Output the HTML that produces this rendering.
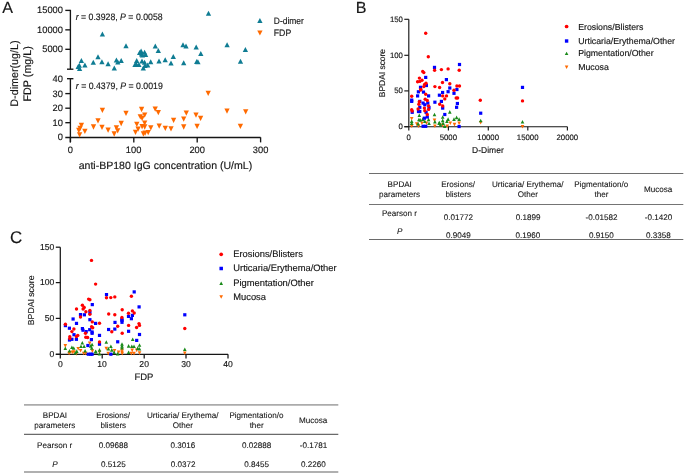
<!DOCTYPE html>
<html><head><meta charset="utf-8"><style>
html,body{margin:0;padding:0;background:#fff;}
body{width:685px;height:474px;overflow:hidden;}
svg{display:block;font-family:"Liberation Sans", sans-serif;will-change:transform;filter:blur(0.35px);}
text{stroke:#161616;stroke-width:0.15px;text-rendering:geometricPrecision;}
text.t{stroke-width:0.1px;}
</style></head><body>
<svg width="685" height="474" viewBox="0 0 685 474">
<rect width="685" height="474" fill="#fff"/>
<text x="2.20" y="12.95" font-size="16.10" text-anchor="start" fill="#161616" >A</text>
<line x1="70.4" y1="9.85" x2="70.4" y2="69.2" stroke="#161616" stroke-width="1.35"/>
<line x1="65.3" y1="10.4" x2="70.4" y2="10.4" stroke="#161616" stroke-width="1.35"/>
<line x1="65.3" y1="29.85" x2="70.4" y2="29.85" stroke="#161616" stroke-width="1.35"/>
<line x1="65.3" y1="49.3" x2="70.4" y2="49.3" stroke="#161616" stroke-width="1.35"/>
<line x1="67.0" y1="69.2" x2="73.4" y2="69.2" stroke="#161616" stroke-width="1.35"/>
<text x="37.07" y="13.40" font-size="9.30" text-anchor="start" fill="#161616" >15000</text>
<text x="37.07" y="32.85" font-size="9.30" text-anchor="start" fill="#161616" >10000</text>
<text x="42.23" y="52.30" font-size="9.30" text-anchor="start" fill="#161616" >5000</text>
<line x1="70.4" y1="78.7" x2="70.4" y2="142.4" stroke="#161616" stroke-width="1.35"/>
<line x1="67.0" y1="78.7" x2="73.4" y2="78.7" stroke="#161616" stroke-width="1.35"/>
<line x1="65.3" y1="93.6" x2="70.4" y2="93.6" stroke="#161616" stroke-width="1.35"/>
<line x1="65.3" y1="108.2" x2="70.4" y2="108.2" stroke="#161616" stroke-width="1.35"/>
<line x1="65.3" y1="122.7" x2="70.4" y2="122.7" stroke="#161616" stroke-width="1.35"/>
<line x1="65.3" y1="137.45" x2="260.6" y2="137.45" stroke="#161616" stroke-width="1.35"/>
<line x1="70.4" y1="137.3" x2="70.4" y2="142.4" stroke="#161616" stroke-width="1.35"/>
<line x1="133.8" y1="137.3" x2="133.8" y2="142.4" stroke="#161616" stroke-width="1.35"/>
<line x1="197.2" y1="137.3" x2="197.2" y2="142.4" stroke="#161616" stroke-width="1.35"/>
<line x1="260.6" y1="137.3" x2="260.6" y2="142.4" stroke="#161616" stroke-width="1.35"/>
<text x="52.60" y="81.70" font-size="9.30" text-anchor="start" fill="#161616" >40</text>
<text x="52.60" y="96.60" font-size="9.30" text-anchor="start" fill="#161616" >30</text>
<text x="52.60" y="111.20" font-size="9.30" text-anchor="start" fill="#161616" >20</text>
<text x="52.60" y="125.70" font-size="9.30" text-anchor="start" fill="#161616" >10</text>
<text x="57.76" y="140.30" font-size="9.30" text-anchor="start" fill="#161616" >0</text>
<text x="67.70" y="153.00" font-size="9.30" text-anchor="start" fill="#161616" >0</text>
<text x="125.87" y="153.00" font-size="9.30" text-anchor="start" fill="#161616" >100</text>
<text x="189.39" y="153.00" font-size="9.30" text-anchor="start" fill="#161616" >200</text>
<text x="252.83" y="153.00" font-size="9.30" text-anchor="start" fill="#161616" >300</text>
<text x="78.68" y="168.70" font-size="10.56" text-anchor="start" fill="#161616" >anti-BP180 IgG concentration (U/mL)</text>
<text transform="translate(17.90,106.66) rotate(-90)" x="0" y="0" font-size="10.90" fill="#161616" textLength="66.24" lengthAdjust="spacingAndGlyphs">D-dimer(ug/L)</text>
<text transform="translate(30.60,101.46) rotate(-90)" x="0" y="0" font-size="10.94" fill="#161616" textLength="55.35" lengthAdjust="spacingAndGlyphs">FDP (mg/L)</text>
<text x="75.7" y="20.2" font-size="9.4" fill="#161616" textLength="86.9" lengthAdjust="spacingAndGlyphs"><tspan font-style="italic">r</tspan> = 0.3928, <tspan font-style="italic">P</tspan> = 0.0058</text>
<text x="75.8" y="88.5" font-size="9.4" fill="#161616" textLength="87.0" lengthAdjust="spacingAndGlyphs"><tspan font-style="italic">r</tspan> = 0.4379, <tspan font-style="italic">P</tspan> = 0.0019</text>
<path d="M259.90 18.10L262.55 23.10L257.25 23.10Z" fill="#0f7c93"/>
<path d="M257.25 30.40L262.55 30.40L259.90 35.40Z" fill="#ff6a00"/>
<text x="273.82" y="23.60" font-size="9.28" text-anchor="start" fill="#161616" textLength="30.01" lengthAdjust="spacingAndGlyphs" >D-dimer</text>
<text x="273.80" y="36.40" font-size="9.59" text-anchor="start" fill="#161616" textLength="17.43" lengthAdjust="spacingAndGlyphs" >FDP</text>
<path d="M102.40 31.40L105.05 36.40L99.75 36.40Z" fill="#0f7c93"/>
<path d="M126.00 43.20L128.65 48.20L123.35 48.20Z" fill="#0f7c93"/>
<path d="M98.00 54.20L100.65 59.20L95.35 59.20Z" fill="#0f7c93"/>
<path d="M81.40 58.00L84.05 63.00L78.75 63.00Z" fill="#0f7c93"/>
<path d="M93.30 59.80L95.95 64.80L90.65 64.80Z" fill="#0f7c93"/>
<path d="M101.90 59.30L104.55 64.30L99.25 64.30Z" fill="#0f7c93"/>
<path d="M108.10 61.20L110.75 66.20L105.45 66.20Z" fill="#0f7c93"/>
<path d="M116.40 57.40L119.05 62.40L113.75 62.40Z" fill="#0f7c93"/>
<path d="M117.80 59.50L120.45 64.50L115.15 64.50Z" fill="#0f7c93"/>
<path d="M121.20 58.10L123.85 63.10L118.55 63.10Z" fill="#0f7c93"/>
<path d="M84.90 62.60L87.55 67.60L82.25 67.60Z" fill="#0f7c93"/>
<path d="M79.30 62.70L81.95 67.70L76.65 67.70Z" fill="#0f7c93"/>
<path d="M79.60 65.90L82.25 70.90L76.95 70.90Z" fill="#0f7c93"/>
<path d="M114.30 65.40L116.95 70.40L111.65 70.40Z" fill="#0f7c93"/>
<path d="M155.30 43.50L157.95 48.50L152.65 48.50Z" fill="#0f7c93"/>
<path d="M158.30 48.00L160.95 53.00L155.65 53.00Z" fill="#0f7c93"/>
<path d="M141.10 48.40L143.75 53.40L138.45 53.40Z" fill="#0f7c93"/>
<path d="M144.60 49.80L147.25 54.80L141.95 54.80Z" fill="#0f7c93"/>
<path d="M141.50 51.50L144.15 56.50L138.85 56.50Z" fill="#0f7c93"/>
<path d="M142.40 52.40L145.05 57.40L139.75 57.40Z" fill="#0f7c93"/>
<path d="M136.70 58.10L139.35 63.10L134.05 63.10Z" fill="#0f7c93"/>
<path d="M136.30 61.60L138.95 66.60L133.65 66.60Z" fill="#0f7c93"/>
<path d="M142.00 58.50L144.65 63.50L139.35 63.50Z" fill="#0f7c93"/>
<path d="M144.60 59.80L147.25 64.80L141.95 64.80Z" fill="#0f7c93"/>
<path d="M150.70 59.30L153.35 64.30L148.05 64.30Z" fill="#0f7c93"/>
<path d="M143.30 65.50L145.95 70.50L140.65 70.50Z" fill="#0f7c93"/>
<path d="M147.70 62.50L150.35 67.50L145.05 67.50Z" fill="#0f7c93"/>
<path d="M145.00 62.90L147.65 67.90L142.35 67.90Z" fill="#0f7c93"/>
<path d="M159.00 58.50L161.65 63.50L156.35 63.50Z" fill="#0f7c93"/>
<path d="M165.20 57.20L167.85 62.20L162.55 62.20Z" fill="#0f7c93"/>
<path d="M208.50 10.80L211.15 15.80L205.85 15.80Z" fill="#0f7c93"/>
<path d="M183.00 42.30L185.65 47.30L180.35 47.30Z" fill="#0f7c93"/>
<path d="M186.00 43.40L188.65 48.40L183.35 48.40Z" fill="#0f7c93"/>
<path d="M196.20 44.60L198.85 49.60L193.55 49.60Z" fill="#0f7c93"/>
<path d="M200.80 51.10L203.45 56.10L198.15 56.10Z" fill="#0f7c93"/>
<path d="M173.30 54.00L175.95 59.00L170.65 59.00Z" fill="#0f7c93"/>
<path d="M171.00 60.50L173.65 65.50L168.35 65.50Z" fill="#0f7c93"/>
<path d="M183.70 60.30L186.35 65.30L181.05 65.30Z" fill="#0f7c93"/>
<path d="M196.70 58.90L199.35 63.90L194.05 63.90Z" fill="#0f7c93"/>
<path d="M197.90 59.20L200.55 64.20L195.25 64.20Z" fill="#0f7c93"/>
<path d="M227.10 42.20L229.75 47.20L224.45 47.20Z" fill="#0f7c93"/>
<path d="M245.40 47.00L248.05 52.00L242.75 52.00Z" fill="#0f7c93"/>
<path d="M240.50 58.80L243.15 63.80L237.85 63.80Z" fill="#0f7c93"/>
<path d="M139.60 49.90L142.25 54.90L136.95 54.90Z" fill="#0f7c93"/>
<path d="M145.60 51.90L148.25 56.90L142.95 56.90Z" fill="#0f7c93"/>
<path d="M135.00 62.00L137.65 67.00L132.35 67.00Z" fill="#0f7c93"/>
<path d="M138.90 62.00L141.55 67.00L136.25 67.00Z" fill="#0f7c93"/>
<path d="M78.20 64.10L80.85 69.10L75.55 69.10Z" fill="#0f7c93"/>
<path d="M99.75 107.75L105.05 107.75L102.40 113.05Z" fill="#ff6a00"/>
<path d="M123.35 110.75L128.65 110.75L126.00 116.05Z" fill="#ff6a00"/>
<path d="M95.35 118.25L100.65 118.25L98.00 123.55Z" fill="#ff6a00"/>
<path d="M78.75 122.65L84.05 122.65L81.40 127.95Z" fill="#ff6a00"/>
<path d="M77.45 125.65L82.75 125.65L80.10 130.95Z" fill="#ff6a00"/>
<path d="M76.15 127.85L81.45 127.85L78.80 133.15Z" fill="#ff6a00"/>
<path d="M76.95 132.25L82.25 132.25L79.60 137.55Z" fill="#ff6a00"/>
<path d="M82.25 128.75L87.55 128.75L84.90 134.05Z" fill="#ff6a00"/>
<path d="M90.85 124.35L96.15 124.35L93.50 129.65Z" fill="#ff6a00"/>
<path d="M99.35 124.75L104.65 124.75L102.00 130.05Z" fill="#ff6a00"/>
<path d="M105.45 127.45L110.75 127.45L108.10 132.75Z" fill="#ff6a00"/>
<path d="M111.55 131.35L116.85 131.35L114.20 136.65Z" fill="#ff6a00"/>
<path d="M113.75 125.25L119.05 125.25L116.40 130.55Z" fill="#ff6a00"/>
<path d="M115.05 128.25L120.35 128.25L117.70 133.55Z" fill="#ff6a00"/>
<path d="M118.55 120.85L123.85 120.85L121.20 126.15Z" fill="#ff6a00"/>
<path d="M138.95 106.85L144.25 106.85L141.60 112.15Z" fill="#ff6a00"/>
<path d="M152.55 106.45L157.85 106.45L155.20 111.75Z" fill="#ff6a00"/>
<path d="M155.65 109.95L160.95 109.95L158.30 115.25Z" fill="#ff6a00"/>
<path d="M142.05 112.55L147.35 112.55L144.70 117.85Z" fill="#ff6a00"/>
<path d="M137.65 114.25L142.95 114.25L140.30 119.55Z" fill="#ff6a00"/>
<path d="M139.45 115.65L144.75 115.65L142.10 120.95Z" fill="#ff6a00"/>
<path d="M170.95 117.75L176.25 117.75L173.60 123.05Z" fill="#ff6a00"/>
<path d="M181.05 116.45L186.35 116.45L183.70 121.75Z" fill="#ff6a00"/>
<path d="M142.05 120.45L147.35 120.45L144.70 125.75Z" fill="#ff6a00"/>
<path d="M134.15 121.75L139.45 121.75L136.80 127.05Z" fill="#ff6a00"/>
<path d="M139.45 123.95L144.75 123.95L142.10 129.25Z" fill="#ff6a00"/>
<path d="M142.05 124.35L147.35 124.35L144.70 129.65Z" fill="#ff6a00"/>
<path d="M135.45 126.55L140.75 126.55L138.10 131.85Z" fill="#ff6a00"/>
<path d="M148.15 125.25L153.45 125.25L150.80 130.55Z" fill="#ff6a00"/>
<path d="M156.55 123.45L161.85 123.45L159.20 128.75Z" fill="#ff6a00"/>
<path d="M162.65 125.65L167.95 125.65L165.30 130.95Z" fill="#ff6a00"/>
<path d="M168.35 126.15L173.65 126.15L171.00 131.45Z" fill="#ff6a00"/>
<path d="M181.05 124.35L186.35 124.35L183.70 129.65Z" fill="#ff6a00"/>
<path d="M132.85 129.65L138.15 129.65L135.50 134.95Z" fill="#ff6a00"/>
<path d="M140.75 131.35L146.05 131.35L143.40 136.65Z" fill="#ff6a00"/>
<path d="M142.45 130.45L147.75 130.45L145.10 135.75Z" fill="#ff6a00"/>
<path d="M145.55 130.05L150.85 130.05L148.20 135.35Z" fill="#ff6a00"/>
<path d="M205.55 90.75L210.85 90.75L208.20 96.05Z" fill="#ff6a00"/>
<path d="M183.65 110.45L188.95 110.45L186.30 115.75Z" fill="#ff6a00"/>
<path d="M193.35 112.45L198.65 112.45L196.00 117.75Z" fill="#ff6a00"/>
<path d="M197.95 115.75L203.25 115.75L200.60 121.05Z" fill="#ff6a00"/>
<path d="M194.45 123.65L199.75 123.65L197.10 128.95Z" fill="#ff6a00"/>
<path d="M224.35 108.55L229.65 108.55L227.00 113.85Z" fill="#ff6a00"/>
<path d="M243.05 109.15L248.35 109.15L245.70 114.45Z" fill="#ff6a00"/>
<path d="M237.75 123.65L243.05 123.65L240.40 128.95Z" fill="#ff6a00"/>
<text x="355.75" y="13.10" font-size="16.10" text-anchor="start" fill="#161616" >B</text>
<line x1="408.8" y1="19.3" x2="408.8" y2="126.7" stroke="#161616" stroke-width="1.15"/>
<line x1="404.3" y1="19.3" x2="408.8" y2="19.3" stroke="#161616" stroke-width="1.15"/>
<text x="389.89" y="21.80" font-size="7.80" text-anchor="start" fill="#161616" >150</text>
<line x1="404.3" y1="55.3" x2="408.8" y2="55.3" stroke="#161616" stroke-width="1.15"/>
<text x="389.89" y="57.80" font-size="7.80" text-anchor="start" fill="#161616" >100</text>
<line x1="404.3" y1="90.9" x2="408.8" y2="90.9" stroke="#161616" stroke-width="1.15"/>
<text x="394.22" y="93.40" font-size="7.80" text-anchor="start" fill="#161616" >50</text>
<line x1="404.3" y1="126.7" x2="408.8" y2="126.7" stroke="#161616" stroke-width="1.15"/>
<text x="398.54" y="129.20" font-size="7.80" text-anchor="start" fill="#161616" >0</text>
<line x1="404.3" y1="126.7" x2="567.4" y2="126.7" stroke="#161616" stroke-width="1.15"/>
<line x1="408.8" y1="126.7" x2="408.8" y2="130.6" stroke="#161616" stroke-width="1.15"/>
<text x="406.62" y="139.70" font-size="7.80" text-anchor="start" fill="#161616" >0</text>
<line x1="448.4" y1="126.7" x2="448.4" y2="130.6" stroke="#161616" stroke-width="1.15"/>
<text x="439.70" y="139.70" font-size="7.80" text-anchor="start" fill="#161616" >5000</text>
<line x1="488.3" y1="126.7" x2="488.3" y2="130.6" stroke="#161616" stroke-width="1.15"/>
<text x="477.30" y="139.70" font-size="7.80" text-anchor="start" fill="#161616" >10000</text>
<line x1="527.8" y1="126.7" x2="527.8" y2="130.6" stroke="#161616" stroke-width="1.15"/>
<text x="516.80" y="139.70" font-size="7.80" text-anchor="start" fill="#161616" >15000</text>
<line x1="567.4" y1="126.7" x2="567.4" y2="130.6" stroke="#161616" stroke-width="1.15"/>
<text x="556.50" y="139.70" font-size="7.80" text-anchor="start" fill="#161616" >20000</text>
<text x="472.12" y="152.80" font-size="8.50" text-anchor="start" fill="#161616" >D-Dimer</text>
<text transform="translate(384.60,97.17) rotate(-90)" x="0" y="0" font-size="8.43" fill="#161616">BPDAI score</text>
<circle cx="566.6" cy="26.5" r="1.85" fill="#ff0000"/>
<rect x="564.90" y="39.30" width="3.4" height="3.4" fill="#0000ff"/>
<path d="M566.60 51.64L568.40 54.96L564.80 54.96Z" fill="#1a8a1a"/>
<path d="M564.80 65.59L568.40 65.59L566.60 69.01Z" fill="#ff6a00"/>
<text x="578.20" y="29.80" font-size="8.75" text-anchor="start" fill="#161616" >Erosions/Blisters</text>
<text x="578.24" y="44.10" font-size="8.75" text-anchor="start" fill="#161616" >Urticaria/Erythema/Other</text>
<text x="578.20" y="56.40" font-size="8.75" text-anchor="start" fill="#161616" >Pigmentation/Other</text>
<text x="578.20" y="70.40" font-size="8.75" text-anchor="start" fill="#161616" >Mucosa</text>
<path d="M409.90 116.90L413.50 116.90L411.70 120.50Z" fill="#ff6a00"/>
<path d="M409.90 124.50L413.50 124.50L411.70 128.10Z" fill="#ff6a00"/>
<path d="M415.00 122.30L418.60 122.30L416.80 125.90Z" fill="#ff6a00"/>
<path d="M416.70 124.50L420.30 124.50L418.50 128.10Z" fill="#ff6a00"/>
<path d="M420.10 121.50L423.70 121.50L421.90 125.10Z" fill="#ff6a00"/>
<path d="M424.70 121.50L428.30 121.50L426.50 125.10Z" fill="#ff6a00"/>
<path d="M432.70 118.60L436.30 118.60L434.50 122.20Z" fill="#ff6a00"/>
<path d="M433.10 124.50L436.70 124.50L434.90 128.10Z" fill="#ff6a00"/>
<path d="M440.90 123.60L444.50 123.60L442.70 127.20Z" fill="#ff6a00"/>
<path d="M445.50 124.50L449.10 124.50L447.30 128.10Z" fill="#ff6a00"/>
<path d="M448.50 121.50L452.10 121.50L450.30 125.10Z" fill="#ff6a00"/>
<path d="M452.70 122.80L456.30 122.80L454.50 126.40Z" fill="#ff6a00"/>
<path d="M457.30 121.50L460.90 121.50L459.10 125.10Z" fill="#ff6a00"/>
<path d="M478.90 121.00L482.50 121.00L480.70 124.60Z" fill="#ff6a00"/>
<path d="M520.70 124.90L524.30 124.90L522.50 128.50Z" fill="#ff6a00"/>
<path d="M419.30 113.50L421.10 117.10L417.50 117.10Z" fill="#1a8a1a"/>
<path d="M434.50 112.70L436.30 116.30L432.70 116.30Z" fill="#1a8a1a"/>
<path d="M411.70 119.40L413.50 123.00L409.90 123.00Z" fill="#1a8a1a"/>
<path d="M411.70 121.50L413.50 125.10L409.90 125.10Z" fill="#1a8a1a"/>
<path d="M418.90 117.70L420.70 121.30L417.10 121.30Z" fill="#1a8a1a"/>
<path d="M420.20 118.10L422.00 121.70L418.40 121.70Z" fill="#1a8a1a"/>
<path d="M422.70 117.30L424.50 120.90L420.90 120.90Z" fill="#1a8a1a"/>
<path d="M418.10 121.90L419.90 125.50L416.30 125.50Z" fill="#1a8a1a"/>
<path d="M424.80 119.40L426.60 123.00L423.00 123.00Z" fill="#1a8a1a"/>
<path d="M428.60 117.70L430.40 121.30L426.80 121.30Z" fill="#1a8a1a"/>
<path d="M429.00 121.50L430.80 125.10L427.20 125.10Z" fill="#1a8a1a"/>
<path d="M434.90 119.80L436.70 123.40L433.10 123.40Z" fill="#1a8a1a"/>
<path d="M439.10 121.50L440.90 125.10L437.30 125.10Z" fill="#1a8a1a"/>
<path d="M449.80 110.10L451.60 113.70L448.00 113.70Z" fill="#1a8a1a"/>
<path d="M442.70 115.20L444.50 118.80L440.90 118.80Z" fill="#1a8a1a"/>
<path d="M439.30 120.70L441.10 124.30L437.50 124.30Z" fill="#1a8a1a"/>
<path d="M442.70 118.60L444.50 122.20L440.90 122.20Z" fill="#1a8a1a"/>
<path d="M443.10 121.50L444.90 125.10L441.30 125.10Z" fill="#1a8a1a"/>
<path d="M448.10 117.30L449.90 120.90L446.30 120.90Z" fill="#1a8a1a"/>
<path d="M446.90 119.40L448.70 123.00L445.10 123.00Z" fill="#1a8a1a"/>
<path d="M454.00 117.30L455.80 120.90L452.20 120.90Z" fill="#1a8a1a"/>
<path d="M456.60 115.60L458.40 119.20L454.80 119.20Z" fill="#1a8a1a"/>
<path d="M459.10 117.30L460.90 120.90L457.30 120.90Z" fill="#1a8a1a"/>
<path d="M440.50 122.80L442.30 126.40L438.70 126.40Z" fill="#1a8a1a"/>
<path d="M444.80 124.50L446.60 128.10L443.00 128.10Z" fill="#1a8a1a"/>
<path d="M480.70 118.70L482.50 122.30L478.90 122.30Z" fill="#1a8a1a"/>
<path d="M522.50 119.90L524.30 123.50L520.70 123.50Z" fill="#1a8a1a"/>
<rect x="432.90" y="65.80" width="3.2" height="3.2" fill="#0000ff"/>
<rect x="424.10" y="75.80" width="3.2" height="3.2" fill="#0000ff"/>
<rect x="424.80" y="83.90" width="3.2" height="3.2" fill="#0000ff"/>
<rect x="418.90" y="85.70" width="3.2" height="3.2" fill="#0000ff"/>
<rect x="416.80" y="90.20" width="3.2" height="3.2" fill="#0000ff"/>
<rect x="421.90" y="90.50" width="3.2" height="3.2" fill="#0000ff"/>
<rect x="410.10" y="98.50" width="3.2" height="3.2" fill="#0000ff"/>
<rect x="410.10" y="99.80" width="3.2" height="3.2" fill="#0000ff"/>
<rect x="410.60" y="110.70" width="3.2" height="3.2" fill="#0000ff"/>
<rect x="416.00" y="94.30" width="3.2" height="3.2" fill="#0000ff"/>
<rect x="427.00" y="94.30" width="3.2" height="3.2" fill="#0000ff"/>
<rect x="418.20" y="99.80" width="3.2" height="3.2" fill="#0000ff"/>
<rect x="421.50" y="101.50" width="3.2" height="3.2" fill="#0000ff"/>
<rect x="423.20" y="103.20" width="3.2" height="3.2" fill="#0000ff"/>
<rect x="426.20" y="101.50" width="3.2" height="3.2" fill="#0000ff"/>
<rect x="418.20" y="105.70" width="3.2" height="3.2" fill="#0000ff"/>
<rect x="427.40" y="106.10" width="3.2" height="3.2" fill="#0000ff"/>
<rect x="416.90" y="109.90" width="3.2" height="3.2" fill="#0000ff"/>
<rect x="418.20" y="109.90" width="3.2" height="3.2" fill="#0000ff"/>
<rect x="424.50" y="110.70" width="3.2" height="3.2" fill="#0000ff"/>
<rect x="425.70" y="115.40" width="3.2" height="3.2" fill="#0000ff"/>
<rect x="422.80" y="116.60" width="3.2" height="3.2" fill="#0000ff"/>
<rect x="433.30" y="100.60" width="3.2" height="3.2" fill="#0000ff"/>
<rect x="437.80" y="93.60" width="3.2" height="3.2" fill="#0000ff"/>
<rect x="421.50" y="124.70" width="3.2" height="3.2" fill="#0000ff"/>
<rect x="424.10" y="124.70" width="3.2" height="3.2" fill="#0000ff"/>
<rect x="457.90" y="62.90" width="3.2" height="3.2" fill="#0000ff"/>
<rect x="444.80" y="78.00" width="3.2" height="3.2" fill="#0000ff"/>
<rect x="448.20" y="86.40" width="3.2" height="3.2" fill="#0000ff"/>
<rect x="455.30" y="87.90" width="3.2" height="3.2" fill="#0000ff"/>
<rect x="446.50" y="90.10" width="3.2" height="3.2" fill="#0000ff"/>
<rect x="441.00" y="90.90" width="3.2" height="3.2" fill="#0000ff"/>
<rect x="452.40" y="91.70" width="3.2" height="3.2" fill="#0000ff"/>
<rect x="439.80" y="99.80" width="3.2" height="3.2" fill="#0000ff"/>
<rect x="441.10" y="106.50" width="3.2" height="3.2" fill="#0000ff"/>
<rect x="455.80" y="101.90" width="3.2" height="3.2" fill="#0000ff"/>
<rect x="455.00" y="105.70" width="3.2" height="3.2" fill="#0000ff"/>
<rect x="443.20" y="112.90" width="3.2" height="3.2" fill="#0000ff"/>
<rect x="457.50" y="124.90" width="3.2" height="3.2" fill="#0000ff"/>
<rect x="479.10" y="111.60" width="3.2" height="3.2" fill="#0000ff"/>
<rect x="520.90" y="85.80" width="3.2" height="3.2" fill="#0000ff"/>
<circle cx="425.7" cy="33.2" r="1.7" fill="#ff0000"/>
<circle cx="428.3" cy="56.8" r="1.7" fill="#ff0000"/>
<circle cx="422.7" cy="71.4" r="1.7" fill="#ff0000"/>
<circle cx="423.8" cy="72.6" r="1.7" fill="#ff0000"/>
<circle cx="419.4" cy="78.1" r="1.7" fill="#ff0000"/>
<circle cx="417.6" cy="81.8" r="1.7" fill="#ff0000"/>
<circle cx="419.8" cy="81.4" r="1.7" fill="#ff0000"/>
<circle cx="422.0" cy="80.3" r="1.7" fill="#ff0000"/>
<circle cx="424.6" cy="84.4" r="1.7" fill="#ff0000"/>
<circle cx="426.0" cy="83.3" r="1.7" fill="#ff0000"/>
<circle cx="423.8" cy="86.6" r="1.7" fill="#ff0000"/>
<circle cx="420.9" cy="89.5" r="1.7" fill="#ff0000"/>
<circle cx="425.7" cy="94.3" r="1.7" fill="#ff0000"/>
<circle cx="434.6" cy="70.3" r="1.7" fill="#ff0000"/>
<circle cx="434.9" cy="86.6" r="1.7" fill="#ff0000"/>
<circle cx="439.6" cy="87.5" r="1.7" fill="#ff0000"/>
<circle cx="411.7" cy="96.3" r="1.7" fill="#ff0000"/>
<circle cx="411.7" cy="109.8" r="1.7" fill="#ff0000"/>
<circle cx="412.2" cy="111.1" r="1.7" fill="#ff0000"/>
<circle cx="425.2" cy="99.3" r="1.7" fill="#ff0000"/>
<circle cx="427.3" cy="100.5" r="1.7" fill="#ff0000"/>
<circle cx="419.3" cy="101.8" r="1.7" fill="#ff0000"/>
<circle cx="418.9" cy="104.3" r="1.7" fill="#ff0000"/>
<circle cx="428.6" cy="106.0" r="1.7" fill="#ff0000"/>
<circle cx="424.4" cy="108.1" r="1.7" fill="#ff0000"/>
<circle cx="428.6" cy="109.4" r="1.7" fill="#ff0000"/>
<circle cx="424.8" cy="110.7" r="1.7" fill="#ff0000"/>
<circle cx="418.1" cy="109.0" r="1.7" fill="#ff0000"/>
<circle cx="427.3" cy="114.5" r="1.7" fill="#ff0000"/>
<circle cx="439.7" cy="104.3" r="1.7" fill="#ff0000"/>
<circle cx="420.6" cy="90.0" r="1.7" fill="#ff0000"/>
<circle cx="441.4" cy="69.6" r="1.7" fill="#ff0000"/>
<circle cx="448.1" cy="68.9" r="1.7" fill="#ff0000"/>
<circle cx="459.2" cy="70.3" r="1.7" fill="#ff0000"/>
<circle cx="442.5" cy="82.5" r="1.7" fill="#ff0000"/>
<circle cx="449.8" cy="83.8" r="1.7" fill="#ff0000"/>
<circle cx="456.9" cy="86.0" r="1.7" fill="#ff0000"/>
<circle cx="459.5" cy="86.0" r="1.7" fill="#ff0000"/>
<circle cx="454.0" cy="90.3" r="1.7" fill="#ff0000"/>
<circle cx="442.7" cy="95.9" r="1.7" fill="#ff0000"/>
<circle cx="446.5" cy="95.9" r="1.7" fill="#ff0000"/>
<circle cx="444.8" cy="98.9" r="1.7" fill="#ff0000"/>
<circle cx="456.2" cy="98.0" r="1.7" fill="#ff0000"/>
<circle cx="457.6" cy="98.0" r="1.7" fill="#ff0000"/>
<circle cx="442.7" cy="106.0" r="1.7" fill="#ff0000"/>
<circle cx="480.3" cy="100.2" r="1.7" fill="#ff0000"/>
<circle cx="522.5" cy="100.9" r="1.7" fill="#ff0000"/>
<line x1="369.0" y1="173.5" x2="683.3" y2="173.5" stroke="#6e6e6e" stroke-width="1.0"/>
<line x1="369.0" y1="204.5" x2="683.3" y2="204.5" stroke="#747474" stroke-width="1.0"/>
<line x1="369.0" y1="239.5" x2="683.3" y2="239.5" stroke="#6a6a6a" stroke-width="1.0"/>
<text x="387.59" y="187.00" font-size="8.10" text-anchor="start" fill="#161616" class="t">BPDAI</text>
<text x="379.09" y="197.00" font-size="8.10" text-anchor="start" fill="#161616" class="t">parameters</text>
<text x="441.19" y="187.00" font-size="8.10" text-anchor="start" fill="#161616" class="t">Erosions/</text>
<text x="445.44" y="197.00" font-size="8.10" text-anchor="start" fill="#161616" class="t">blisters</text>
<text x="491.89" y="187.00" font-size="8.10" text-anchor="start" fill="#161616" class="t">Urticaria/ Erythema/</text>
<text x="517.75" y="197.00" font-size="8.10" text-anchor="start" fill="#161616" class="t">Other</text>
<text x="574.22" y="187.00" font-size="8.10" text-anchor="start" fill="#161616" class="t">Pigmentation/o</text>
<text x="594.43" y="197.00" font-size="8.10" text-anchor="start" fill="#161616" class="t">ther</text>
<text x="644.00" y="191.60" font-size="8.10" text-anchor="start" fill="#161616" class="t">Mucosa</text>
<text x="381.88" y="216.10" font-size="8.10" text-anchor="start" fill="#161616" class="t">Pearson r</text>
<text x="443.80" y="220.00" font-size="8.10" text-anchor="start" fill="#161616" class="t">0.01772</text>
<text x="515.63" y="220.00" font-size="8.10" text-anchor="start" fill="#161616" class="t">0.1899</text>
<text x="585.44" y="220.00" font-size="8.10" text-anchor="start" fill="#161616" class="t">-0.01582</text>
<text x="644.73" y="220.00" font-size="8.10" text-anchor="start" fill="#161616" class="t">-0.1420</text>
<text x="399.70" y="233.60" font-size="8.10" text-anchor="middle" fill="#161616" font-style="italic" class="t">P</text>
<text x="446.03" y="237.70" font-size="8.10" text-anchor="start" fill="#161616" class="t">0.9049</text>
<text x="515.59" y="237.70" font-size="8.10" text-anchor="start" fill="#161616" class="t">0.1960</text>
<text x="588.99" y="237.70" font-size="8.10" text-anchor="start" fill="#161616" class="t">0.9150</text>
<text x="646.11" y="237.70" font-size="8.10" text-anchor="start" fill="#161616" class="t">0.3358</text>
<text x="10.00" y="243.10" font-size="16.90" text-anchor="start" fill="#161616" >C</text>
<line x1="60.3" y1="247.2" x2="60.3" y2="354.3" stroke="#161616" stroke-width="1.25"/>
<line x1="55.8" y1="247.2" x2="60.3" y2="247.2" stroke="#161616" stroke-width="1.25"/>
<text x="39.98" y="249.90" font-size="8.60" text-anchor="start" fill="#161616" >150</text>
<line x1="55.8" y1="282.6" x2="60.3" y2="282.6" stroke="#161616" stroke-width="1.25"/>
<text x="39.98" y="285.30" font-size="8.60" text-anchor="start" fill="#161616" >100</text>
<line x1="55.8" y1="318.4" x2="60.3" y2="318.4" stroke="#161616" stroke-width="1.25"/>
<text x="44.76" y="321.10" font-size="8.60" text-anchor="start" fill="#161616" >50</text>
<line x1="55.8" y1="354.3" x2="60.3" y2="354.3" stroke="#161616" stroke-width="1.25"/>
<text x="49.53" y="357.00" font-size="8.60" text-anchor="start" fill="#161616" >0</text>
<line x1="55.8" y1="354.3" x2="228.0" y2="354.3" stroke="#161616" stroke-width="1.25"/>
<line x1="60.3" y1="354.3" x2="60.3" y2="358.4" stroke="#161616" stroke-width="1.25"/>
<text x="57.89" y="367.00" font-size="8.60" text-anchor="start" fill="#161616" >0</text>
<line x1="102.2" y1="354.3" x2="102.2" y2="358.4" stroke="#161616" stroke-width="1.25"/>
<text x="97.26" y="367.00" font-size="8.60" text-anchor="start" fill="#161616" >10</text>
<line x1="144.2" y1="354.3" x2="144.2" y2="358.4" stroke="#161616" stroke-width="1.25"/>
<text x="139.36" y="367.00" font-size="8.60" text-anchor="start" fill="#161616" >20</text>
<line x1="186.0" y1="354.3" x2="186.0" y2="358.4" stroke="#161616" stroke-width="1.25"/>
<text x="181.21" y="367.00" font-size="8.60" text-anchor="start" fill="#161616" >30</text>
<line x1="228.0" y1="354.3" x2="228.0" y2="358.4" stroke="#161616" stroke-width="1.25"/>
<text x="223.29" y="367.00" font-size="8.60" text-anchor="start" fill="#161616" >40</text>
<text x="134.44" y="380.10" font-size="9.47" text-anchor="start" fill="#161616" >FDP</text>
<text transform="translate(34.40,325.19) rotate(-90)" x="0" y="0" font-size="8.68" fill="#161616">BPDAI score</text>
<circle cx="221.2" cy="254.3" r="1.85" fill="#ff0000"/>
<rect x="219.45" y="266.75" width="3.5" height="3.5" fill="#0000ff"/>
<path d="M221.20 281.60L223.05 285.00L219.35 285.00Z" fill="#1a8a1a"/>
<path d="M219.35 295.24L223.05 295.24L221.20 298.76Z" fill="#ff6a00"/>
<text x="233.25" y="256.90" font-size="9.35" text-anchor="start" fill="#161616" >Erosions/Blisters</text>
<text x="233.30" y="271.40" font-size="9.35" text-anchor="start" fill="#161616" >Urticaria/Erythema/Other</text>
<text x="233.25" y="285.60" font-size="9.35" text-anchor="start" fill="#161616" >Pigmentation/Other</text>
<text x="233.25" y="299.90" font-size="9.35" text-anchor="start" fill="#161616" >Mucosa</text>
<path d="M63.50 344.10L67.10 344.10L65.30 347.70Z" fill="#ff6a00"/>
<path d="M68.00 351.00L71.60 351.00L69.80 354.60Z" fill="#ff6a00"/>
<path d="M70.50 350.60L74.10 350.60L72.30 354.20Z" fill="#ff6a00"/>
<path d="M72.20 350.30L75.80 350.30L74.00 353.90Z" fill="#ff6a00"/>
<path d="M67.30 351.70L70.90 351.70L69.10 355.30Z" fill="#ff6a00"/>
<path d="M74.60 352.10L78.20 352.10L76.40 355.70Z" fill="#ff6a00"/>
<path d="M76.40 346.90L80.00 346.90L78.20 350.50Z" fill="#ff6a00"/>
<path d="M78.80 348.90L82.40 348.90L80.60 352.50Z" fill="#ff6a00"/>
<path d="M81.90 351.70L85.50 351.70L83.70 355.30Z" fill="#ff6a00"/>
<path d="M84.00 351.70L87.60 351.70L85.80 355.30Z" fill="#ff6a00"/>
<path d="M87.90 341.60L91.50 341.60L89.70 345.20Z" fill="#ff6a00"/>
<path d="M90.60 349.30L94.20 349.30L92.40 352.90Z" fill="#ff6a00"/>
<path d="M104.50 346.80L108.10 346.80L106.30 350.40Z" fill="#ff6a00"/>
<path d="M120.20 348.60L123.80 348.60L122.00 352.20Z" fill="#ff6a00"/>
<path d="M120.20 350.40L123.80 350.40L122.00 354.00Z" fill="#ff6a00"/>
<path d="M120.40 351.80L124.00 351.80L122.20 355.40Z" fill="#ff6a00"/>
<path d="M130.40 348.60L134.00 348.60L132.20 352.20Z" fill="#ff6a00"/>
<path d="M129.50 351.80L133.10 351.80L131.30 355.40Z" fill="#ff6a00"/>
<path d="M132.20 351.80L135.80 351.80L134.00 355.40Z" fill="#ff6a00"/>
<path d="M134.90 348.60L138.50 348.60L136.70 352.20Z" fill="#ff6a00"/>
<path d="M137.70 351.30L141.30 351.30L139.50 354.90Z" fill="#ff6a00"/>
<path d="M97.70 350.40L101.30 350.40L99.50 354.00Z" fill="#ff6a00"/>
<path d="M106.40 351.80L110.00 351.80L108.20 355.40Z" fill="#ff6a00"/>
<path d="M112.70 349.00L116.30 349.00L114.50 352.60Z" fill="#ff6a00"/>
<path d="M116.80 350.40L120.40 350.40L118.60 354.00Z" fill="#ff6a00"/>
<path d="M183.00 351.50L186.60 351.50L184.80 355.10Z" fill="#ff6a00"/>
<path d="M65.30 346.50L67.10 350.10L63.50 350.10Z" fill="#1a8a1a"/>
<path d="M71.90 345.50L73.70 349.10L70.10 349.10Z" fill="#1a8a1a"/>
<path d="M73.70 346.20L75.50 349.80L71.90 349.80Z" fill="#1a8a1a"/>
<path d="M69.50 348.90L71.30 352.50L67.70 352.50Z" fill="#1a8a1a"/>
<path d="M82.30 340.90L84.10 344.50L80.50 344.50Z" fill="#1a8a1a"/>
<path d="M81.00 344.40L82.80 348.00L79.20 348.00Z" fill="#1a8a1a"/>
<path d="M84.10 344.40L85.90 348.00L82.30 348.00Z" fill="#1a8a1a"/>
<path d="M76.80 349.30L78.60 352.90L75.00 352.90Z" fill="#1a8a1a"/>
<path d="M85.10 348.90L86.90 352.50L83.30 352.50Z" fill="#1a8a1a"/>
<path d="M90.70 344.10L92.50 347.70L88.90 347.70Z" fill="#1a8a1a"/>
<path d="M92.10 342.70L93.90 346.30L90.30 346.30Z" fill="#1a8a1a"/>
<path d="M91.70 346.20L93.50 349.80L89.90 349.80Z" fill="#1a8a1a"/>
<path d="M95.60 349.60L97.40 353.20L93.80 353.20Z" fill="#1a8a1a"/>
<path d="M75.40 351.00L77.20 354.60L73.60 354.60Z" fill="#1a8a1a"/>
<path d="M106.30 340.20L108.10 343.80L104.50 343.80Z" fill="#1a8a1a"/>
<path d="M132.70 337.50L134.50 341.10L130.90 341.10Z" fill="#1a8a1a"/>
<path d="M122.00 342.20L123.80 345.80L120.20 345.80Z" fill="#1a8a1a"/>
<path d="M122.00 344.10L123.80 347.70L120.20 347.70Z" fill="#1a8a1a"/>
<path d="M122.00 345.90L123.80 349.50L120.20 349.50Z" fill="#1a8a1a"/>
<path d="M110.90 344.50L112.70 348.10L109.10 348.10Z" fill="#1a8a1a"/>
<path d="M108.40 346.80L110.20 350.40L106.60 350.40Z" fill="#1a8a1a"/>
<path d="M111.80 348.10L113.60 351.70L110.00 351.70Z" fill="#1a8a1a"/>
<path d="M128.60 344.10L130.40 347.70L126.80 347.70Z" fill="#1a8a1a"/>
<path d="M131.80 344.50L133.60 348.10L130.00 348.10Z" fill="#1a8a1a"/>
<path d="M134.00 344.50L135.80 348.10L132.20 348.10Z" fill="#1a8a1a"/>
<path d="M139.50 343.20L141.30 346.80L137.70 346.80Z" fill="#1a8a1a"/>
<path d="M137.70 346.30L139.50 349.90L135.90 349.90Z" fill="#1a8a1a"/>
<path d="M139.50 347.00L141.30 350.60L137.70 350.60Z" fill="#1a8a1a"/>
<path d="M99.50 348.10L101.30 351.70L97.70 351.70Z" fill="#1a8a1a"/>
<path d="M95.90 350.00L97.70 353.60L94.10 353.60Z" fill="#1a8a1a"/>
<path d="M114.10 350.40L115.90 354.00L112.30 354.00Z" fill="#1a8a1a"/>
<path d="M117.70 351.80L119.50 355.40L115.90 355.40Z" fill="#1a8a1a"/>
<path d="M128.60 350.40L130.40 354.00L126.80 354.00Z" fill="#1a8a1a"/>
<path d="M99.50 351.80L101.30 355.40L97.70 355.40Z" fill="#1a8a1a"/>
<path d="M184.80 347.40L186.60 351.00L183.00 351.00Z" fill="#1a8a1a"/>
<rect x="104.90" y="293.00" width="3.2" height="3.2" fill="#0000ff"/>
<rect x="90.70" y="303.00" width="3.2" height="3.2" fill="#0000ff"/>
<rect x="78.90" y="313.00" width="3.2" height="3.2" fill="#0000ff"/>
<rect x="82.80" y="313.20" width="3.2" height="3.2" fill="#0000ff"/>
<rect x="88.30" y="310.70" width="3.2" height="3.2" fill="#0000ff"/>
<rect x="71.50" y="317.40" width="3.2" height="3.2" fill="#0000ff"/>
<rect x="88.30" y="318.10" width="3.2" height="3.2" fill="#0000ff"/>
<rect x="74.90" y="321.80" width="3.2" height="3.2" fill="#0000ff"/>
<rect x="94.00" y="321.80" width="3.2" height="3.2" fill="#0000ff"/>
<rect x="63.80" y="324.00" width="3.2" height="3.2" fill="#0000ff"/>
<rect x="67.80" y="326.60" width="3.2" height="3.2" fill="#0000ff"/>
<rect x="80.80" y="327.00" width="3.2" height="3.2" fill="#0000ff"/>
<rect x="88.10" y="328.10" width="3.2" height="3.2" fill="#0000ff"/>
<rect x="81.40" y="328.60" width="3.2" height="3.2" fill="#0000ff"/>
<rect x="84.60" y="330.00" width="3.2" height="3.2" fill="#0000ff"/>
<rect x="90.50" y="330.40" width="3.2" height="3.2" fill="#0000ff"/>
<rect x="90.50" y="331.70" width="3.2" height="3.2" fill="#0000ff"/>
<rect x="72.40" y="333.10" width="3.2" height="3.2" fill="#0000ff"/>
<rect x="67.90" y="338.40" width="3.2" height="3.2" fill="#0000ff"/>
<rect x="70.30" y="337.70" width="3.2" height="3.2" fill="#0000ff"/>
<rect x="74.80" y="337.70" width="3.2" height="3.2" fill="#0000ff"/>
<rect x="89.80" y="338.00" width="3.2" height="3.2" fill="#0000ff"/>
<rect x="86.30" y="343.90" width="3.2" height="3.2" fill="#0000ff"/>
<rect x="86.70" y="352.60" width="3.2" height="3.2" fill="#0000ff"/>
<rect x="89.10" y="352.60" width="3.2" height="3.2" fill="#0000ff"/>
<rect x="90.50" y="352.60" width="3.2" height="3.2" fill="#0000ff"/>
<rect x="132.60" y="290.30" width="3.2" height="3.2" fill="#0000ff"/>
<rect x="137.50" y="305.30" width="3.2" height="3.2" fill="#0000ff"/>
<rect x="126.90" y="314.80" width="3.2" height="3.2" fill="#0000ff"/>
<rect x="130.80" y="313.80" width="3.2" height="3.2" fill="#0000ff"/>
<rect x="129.80" y="317.10" width="3.2" height="3.2" fill="#0000ff"/>
<rect x="120.30" y="317.80" width="3.2" height="3.2" fill="#0000ff"/>
<rect x="113.40" y="320.80" width="3.2" height="3.2" fill="#0000ff"/>
<rect x="120.40" y="318.80" width="3.2" height="3.2" fill="#0000ff"/>
<rect x="120.40" y="320.70" width="3.2" height="3.2" fill="#0000ff"/>
<rect x="107.00" y="327.90" width="3.2" height="3.2" fill="#0000ff"/>
<rect x="113.20" y="327.50" width="3.2" height="3.2" fill="#0000ff"/>
<rect x="127.00" y="329.70" width="3.2" height="3.2" fill="#0000ff"/>
<rect x="97.90" y="333.80" width="3.2" height="3.2" fill="#0000ff"/>
<rect x="137.90" y="332.90" width="3.2" height="3.2" fill="#0000ff"/>
<rect x="116.10" y="340.20" width="3.2" height="3.2" fill="#0000ff"/>
<rect x="135.10" y="338.80" width="3.2" height="3.2" fill="#0000ff"/>
<rect x="97.90" y="342.60" width="3.2" height="3.2" fill="#0000ff"/>
<rect x="109.30" y="352.60" width="3.2" height="3.2" fill="#0000ff"/>
<rect x="183.20" y="313.20" width="3.2" height="3.2" fill="#0000ff"/>
<circle cx="91.5" cy="260.4" r="1.7" fill="#ff0000"/>
<circle cx="95.6" cy="284.1" r="1.7" fill="#ff0000"/>
<circle cx="88.6" cy="299.1" r="1.7" fill="#ff0000"/>
<circle cx="89.9" cy="299.8" r="1.7" fill="#ff0000"/>
<circle cx="106.5" cy="297.7" r="1.7" fill="#ff0000"/>
<circle cx="82.4" cy="305.3" r="1.7" fill="#ff0000"/>
<circle cx="84.2" cy="307.5" r="1.7" fill="#ff0000"/>
<circle cx="83.1" cy="309.0" r="1.7" fill="#ff0000"/>
<circle cx="76.5" cy="309.0" r="1.7" fill="#ff0000"/>
<circle cx="85.9" cy="311.8" r="1.7" fill="#ff0000"/>
<circle cx="89.9" cy="310.5" r="1.7" fill="#ff0000"/>
<circle cx="89.9" cy="314.2" r="1.7" fill="#ff0000"/>
<circle cx="80.5" cy="317.0" r="1.7" fill="#ff0000"/>
<circle cx="92.3" cy="321.9" r="1.7" fill="#ff0000"/>
<circle cx="65.4" cy="324.2" r="1.7" fill="#ff0000"/>
<circle cx="73.9" cy="329.0" r="1.7" fill="#ff0000"/>
<circle cx="91.6" cy="326.7" r="1.7" fill="#ff0000"/>
<circle cx="92.7" cy="327.8" r="1.7" fill="#ff0000"/>
<circle cx="71.9" cy="331.6" r="1.7" fill="#ff0000"/>
<circle cx="69.8" cy="336.8" r="1.7" fill="#ff0000"/>
<circle cx="69.8" cy="338.6" r="1.7" fill="#ff0000"/>
<circle cx="77.8" cy="335.4" r="1.7" fill="#ff0000"/>
<circle cx="76.4" cy="336.5" r="1.7" fill="#ff0000"/>
<circle cx="85.5" cy="333.3" r="1.7" fill="#ff0000"/>
<circle cx="85.8" cy="337.2" r="1.7" fill="#ff0000"/>
<circle cx="87.6" cy="337.5" r="1.7" fill="#ff0000"/>
<circle cx="110.8" cy="297.6" r="1.7" fill="#ff0000"/>
<circle cx="114.8" cy="296.9" r="1.7" fill="#ff0000"/>
<circle cx="131.4" cy="296.2" r="1.7" fill="#ff0000"/>
<circle cx="122.2" cy="309.7" r="1.7" fill="#ff0000"/>
<circle cx="132.4" cy="310.9" r="1.7" fill="#ff0000"/>
<circle cx="134.2" cy="313.0" r="1.7" fill="#ff0000"/>
<circle cx="128.5" cy="313.2" r="1.7" fill="#ff0000"/>
<circle cx="108.7" cy="314.0" r="1.7" fill="#ff0000"/>
<circle cx="114.8" cy="314.8" r="1.7" fill="#ff0000"/>
<circle cx="121.9" cy="317.5" r="1.7" fill="#ff0000"/>
<circle cx="99.5" cy="323.3" r="1.7" fill="#ff0000"/>
<circle cx="117.7" cy="326.3" r="1.7" fill="#ff0000"/>
<circle cx="111.8" cy="331.8" r="1.7" fill="#ff0000"/>
<circle cx="122.2" cy="333.3" r="1.7" fill="#ff0000"/>
<circle cx="128.6" cy="325.4" r="1.7" fill="#ff0000"/>
<circle cx="139.0" cy="323.6" r="1.7" fill="#ff0000"/>
<circle cx="139.5" cy="325.4" r="1.7" fill="#ff0000"/>
<circle cx="136.6" cy="327.5" r="1.7" fill="#ff0000"/>
<circle cx="99.5" cy="342.0" r="1.7" fill="#ff0000"/>
<circle cx="184.8" cy="328.5" r="1.7" fill="#ff0000"/>
<line x1="24.0" y1="404.9" x2="338.3" y2="404.9" stroke="#ababab" stroke-width="1.9"/>
<line x1="24.0" y1="434.4" x2="338.3" y2="434.4" stroke="#6a6a6a" stroke-width="1.3"/>
<line x1="24.0" y1="471.95" x2="338.3" y2="471.95" stroke="#b0b0b0" stroke-width="1.9"/>
<text x="42.79" y="418.20" font-size="8.10" text-anchor="start" fill="#161616" class="t">BPDAI</text>
<text x="34.29" y="427.90" font-size="8.10" text-anchor="start" fill="#161616" class="t">parameters</text>
<text x="96.29" y="418.20" font-size="8.10" text-anchor="start" fill="#161616" class="t">Erosions/</text>
<text x="100.54" y="427.90" font-size="8.10" text-anchor="start" fill="#161616" class="t">blisters</text>
<text x="146.89" y="418.20" font-size="8.10" text-anchor="start" fill="#161616" class="t">Urticaria/ Erythema/</text>
<text x="172.75" y="427.90" font-size="8.10" text-anchor="start" fill="#161616" class="t">Other</text>
<text x="229.42" y="418.20" font-size="8.10" text-anchor="start" fill="#161616" class="t">Pigmentation/o</text>
<text x="249.63" y="427.90" font-size="8.10" text-anchor="start" fill="#161616" class="t">ther</text>
<text x="299.00" y="423.20" font-size="8.10" text-anchor="start" fill="#161616" class="t">Mucosa</text>
<text x="37.08" y="448.20" font-size="8.10" text-anchor="start" fill="#161616" class="t">Pearson r</text>
<text x="98.86" y="448.20" font-size="8.10" text-anchor="start" fill="#161616" class="t">0.09688</text>
<text x="170.61" y="448.20" font-size="8.10" text-anchor="start" fill="#161616" class="t">0.3016</text>
<text x="241.96" y="448.20" font-size="8.10" text-anchor="start" fill="#161616" class="t">0.02888</text>
<text x="299.77" y="448.20" font-size="8.10" text-anchor="start" fill="#161616" class="t">-0.1781</text>
<text x="54.90" y="466.60" font-size="8.10" text-anchor="middle" fill="#161616" font-style="italic" class="t">P</text>
<text x="101.11" y="466.60" font-size="8.10" text-anchor="start" fill="#161616" class="t">0.5125</text>
<text x="170.65" y="466.60" font-size="8.10" text-anchor="start" fill="#161616" class="t">0.0372</text>
<text x="244.21" y="466.60" font-size="8.10" text-anchor="start" fill="#161616" class="t">0.8455</text>
<text x="301.09" y="466.60" font-size="8.10" text-anchor="start" fill="#161616" class="t">0.2260</text>
</svg>
</body></html>
